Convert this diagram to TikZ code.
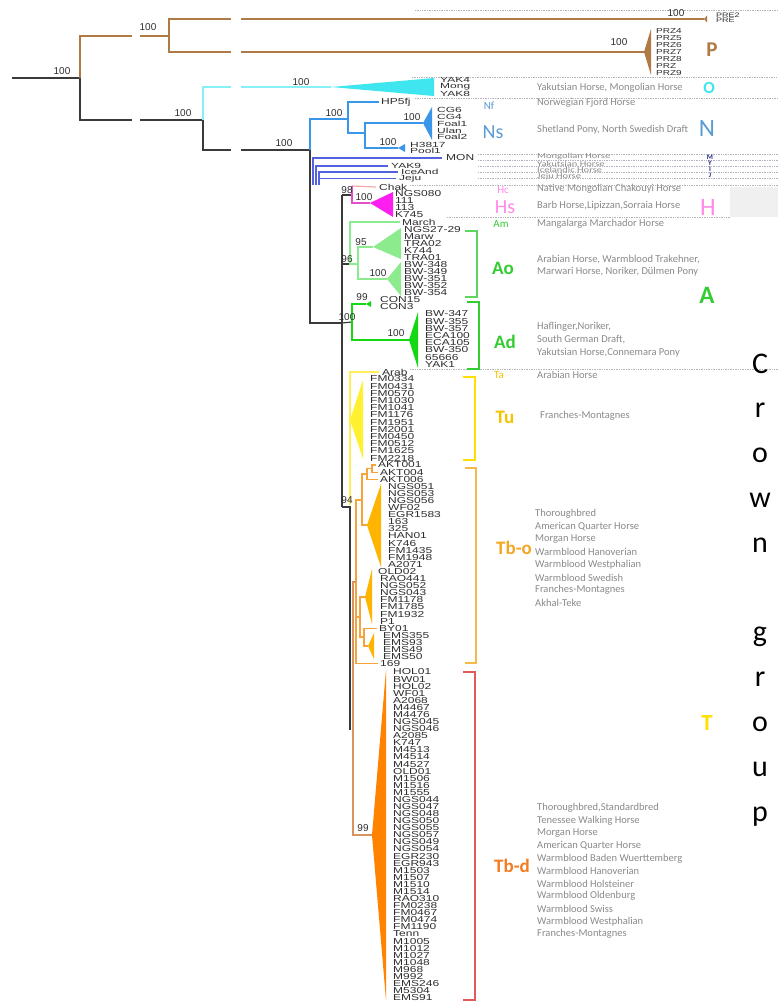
\documentclass[tikz,border=0pt]{standalone}
\usepackage{fontspec}
\setmainfont{Carlito}
\newfontfamily\arialf{Liberation Sans}
\newcommand\sq[1]{\scalebox{1}[0.72]{#1}}
\newcommand\sqq[1]{\scalebox{1}[0.62]{#1}}

\definecolor{blk}{HTML}{3A3A3A}
\definecolor{brn}{HTML}{B07A45}
\definecolor{cyl}{HTML}{86F0F6}
\definecolor{cyt}{HTML}{3FE6F0}
\definecolor{nblu}{HTML}{3A96E8}
\definecolor{nlab}{HTML}{5B9BD5}
\definecolor{mblu}{HTML}{5262E0}
\definecolor{navy}{HTML}{1F2A80}
\definecolor{hpk}{HTML}{FF8AE8}
\definecolor{hmag}{HTML}{FF1EF0}
\definecolor{hlin}{HTML}{E24FC8}
\definecolor{chakc}{HTML}{F4A8A8}
\definecolor{lgrn}{HTML}{8CEB8C}
\definecolor{dgrn}{HTML}{14D814}
\definecolor{glab}{HTML}{33CC33}
\definecolor{ylin}{HTML}{FFEE55}
\definecolor{ytri}{HTML}{FFF030}
\definecolor{ylab}{HTML}{F5C400}
\definecolor{tyel}{HTML}{FFE000}
\definecolor{olin}{HTML}{F5A33A}
\definecolor{otri}{HTML}{FFB400}
\definecolor{olab}{HTML}{F5A623}
\definecolor{obkt}{HTML}{F7B84A}
\definecolor{dtri}{HTML}{FF8200}
\definecolor{dlab}{HTML}{F47B20}
\definecolor{tanl}{HTML}{D8935E}
\definecolor{rbkt}{HTML}{E05A5A}
\definecolor{descc}{HTML}{8A8A8A}
\definecolor{leafc}{HTML}{2E2E2E}
\definecolor{dotc}{HTML}{B4B4C0}
\definecolor{greybox}{HTML}{F0F0F0}

\tikzset{
  br/.style={line width=1.2pt},
  bkt/.style={line width=1.3pt},
  leaf/.style={anchor=west, inner sep=0pt, text=leafc, font=\arialf\fontsize{12}{12}\selectfont},
  pleaf/.style={leaf, font=\arialf\fontsize{10}{10}\selectfont},
  boot/.style={inner sep=0pt, text=leafc, font=\arialf\fontsize{10}{10}\selectfont},
  desc/.style={anchor=west, inner sep=0pt, text=descc, font=\fontsize{10.5}{12}\selectfont},
  abbr/.style={inner sep=0pt, font=\fontsize{11}{11}\selectfont},
  clade/.style={inner sep=0pt, font=\fontsize{19}{19}\selectfont\bfseries},
  biglet/.style={inner sep=0pt, font=\fontsize{23}{23}\selectfont},
  crown/.style={anchor=base, inner sep=0pt, font=\fontsize{30}{30}\selectfont},
  dotsep/.style={draw=dotc, densely dotted, line width=0.7pt},
}

\begin{document}
\begin{tikzpicture}[x=1pt,y=-1pt]
\useasboundingbox (0,0) rectangle (778,1005);
\fill[white] (0,0) rectangle (778,1005);
\fill[greybox] (730,187) rectangle (778,217);
\foreach \y/\a/\b in {10/415/778,77/412/778,98/415/778,154/478/778,160/478/778,166/478/778,172/478/778,178/478/778,185/410/778,217/447/730,369/410/778}
  \draw[dotsep] (\a,\y) -- (\b,\y);

% P
\coordinate (root) at (12,78);
\coordinate (n0) at (80,78);
\coordinate (nP) at (169,36);
\coordinate (nO) at (203,120);
\draw[br,blk] (root) -- (n0) -- (80,120) -- (132,120);
\draw[br,blk] (140,120) -- (nO);
\draw[br,brn] (n0) -- (80,36) -- (132,36);
\draw[br,brn] (140,36) -- (nP);
\draw[br,brn] (231,19) -| (nP) |- (231,52);
\draw[br,brn] (241,19) -- (704,19);
\draw[br,brn] (241,52) -- (644,52);
\fill[brn] (704,19) -- (707,15.5) -- (707,22.5) -- cycle;
\fill[brn] (644,52) -- (651,29) -- (651,75) -- cycle;
\node[pleaf, font=\arialf\fontsize{9}{9}\selectfont] (pre2) at (716,15) {\sq{PRE2}};
\node[pleaf, font=\arialf\fontsize{9}{9}\selectfont] (pre) at (716,20) {\sq{PRE}};
\foreach \t [count=\i from 0] in {PRZ4,PRZ5,PRZ6,PRZ7,PRZ8,PRZ,PRZ9}
  \node[pleaf] (prz\i) at (656,31+\i*7) {\sq{\t}};
\node[boot] (b0) at (62,71) {100};
\node[boot] (b1) at (148,27) {100};
\node[boot] (b2) at (676,13) {100};
\node[boot] (b3) at (619,42) {100};
\node[boot] (b4) at (183,113) {100};

% O
\coordinate (aO) at (331,87);
\coordinate (nC) at (310,150);
\draw[br,cyl] (231,87) -| (nO);
\draw[br,cyl] (241,87) -- (aO);
\fill[cyt] (aO) -- (434,78) -- (434,96) -- cycle;
\foreach \t [count=\i from 0] in {YAK4,Mong,YAK8}
  \node[leaf] (o\i) at (440,80+\i*7) {\sqq{\t}};
\draw[br,blk] (nO) |- (231,150);
\draw[br,blk] (241,150) -- (nC);
\node[boot] (b5) at (301,82) {100};
\node[boot] (b6) at (284,143) {100};

% N
\coordinate (nN) at (348,119);
\coordinate (nNs) at (365,133);
\coordinate (aNs) at (423,123);
\coordinate (aH) at (398,148);
\node[leaf] (hp) at (381,102) {\sq{HP5fj}};
\foreach \t [count=\i from 0] in {CG6,CG4,Foal1,Ulan,Foal2}
  \node[leaf] (ns\i) at (437,110+\i*6.8) {\sqq{\t}};
\foreach \t [count=\i from 0] in {H3817,Pool1}
  \node[leaf] (nh\i) at (410,144.5+\i*6.8) {\sqq{\t}};
\draw[br,nblu] (nC) -- (310,119) -- (nN);
\draw[br,nblu] ([xshift=-2pt]hp.west) -| (nN) |- (nNs);
\draw[br,nblu] (aNs) -| (nNs) |- (aH);
\fill[nblu] (aNs) -- (432,107) -- (432,140) -- cycle;
\fill[nblu] (aH) -- (405,144) -- (405,152) -- cycle;
\node[boot] (b7) at (334,113) {100};
\node[boot] (b8) at (412,117) {100};
\node[boot] (b9) at (388,142) {100};

% M, Y, I, J
\node[leaf] (mon) at (446,158) {\sq{MON}};
\node[leaf] (yak9) at (391,166) {\sqq{YAK9}};
\node[leaf] (ice) at (401,172) {\sqq{IceAnd}};
\node[leaf] (jeju) at (399,178.5) {\sqq{Jeju}};
\draw[br,mblu] (313,185) |- ([xshift=-4pt]mon.west);
\draw[br,mblu] (316,185) |- ([xshift=-3pt]yak9.west);
\draw[br,mblu] (319,185) |- ([xshift=-3pt]ice.west);
\draw[br,mblu] (319,178.5) -- ([xshift=-3pt]jeju.west);

% crown spine
\coordinate (nHA) at (342,323);
\coordinate (hTop) at (342,195);
\coordinate (nT) at (342,507);
\draw[br,blk] (nC) |- (nHA);
\draw[br,blk] (hTop) -- (nT);

% H
\coordinate (nH) at (352,195);
\coordinate (aHs) at (370,203);
\node[leaf] (chak) at (379,187) {\sq{Chak}};
\foreach \t [count=\i from 0] in {NGS080,111,113,K745}
  \node[leaf] (hs\i) at (395,194+\i*7) {\sq{\t}};
\draw[br,blk] (hTop) -- (nH);
\draw[br,chakc] ([xshift=-3pt]chak.west) -- (352,186);
\draw[br,hlin] (352,186) -- (nH) |- (aHs);
\fill[hmag] (aHs) -- (393,192) -- (393,217) -- cycle;
\node[boot] (b10) at (347,190) {98};
\node[boot] (b11) at (364,197) {100};

% Ao
\coordinate (nAo) at (350,264);
\coordinate (n95) at (358,264);
\coordinate (aAo1) at (373,247);
\coordinate (aAo2) at (387,279);
\node[leaf] (march) at (402,222) {\sq{March}};
\foreach \t [count=\i from 0] in {NGS27-29,Marw,TRA02,K744,TRA01,BW-348,BW-349,BW-351,BW-352,BW-354}
  \node[leaf] (ao\i) at (404,230+\i*7) {\sq{\t}};
\draw[br,blk] (342,264) -- (nAo);
\draw[br,lgrn] ([xshift=-2pt]march.west) -| (nAo) -- (n95);
\draw[br,lgrn] (aAo1) -| (n95) |- (aAo2);
\fill[lgrn] (aAo1) -- (401,228) -- (401,259) -- cycle;
\fill[lgrn] (aAo2) -- (401,262) -- (401,296) -- cycle;
\node[boot] (b12) at (347,259) {96};
\node[boot] (b13) at (361,242) {95};
\node[boot] (b14) at (378,273) {100};

% Ad
\coordinate (nAd) at (352,322);
\coordinate (aCon) at (366,304);
\coordinate (aAd) at (409,340);
\node[leaf] (con15) at (380,300) {\sq{CON15}};
\node[leaf] (con3) at (380,307) {\sq{CON3}};
\foreach \t [count=\i from 0] in {BW-347,BW-355,BW-357,ECA100,ECA105,BW-350,65666,YAK1}
  \node[leaf] (ad\i) at (425,314+\i*7.2) {\sq{\t}};
\draw[br,blk] (nHA) -- (nAd);
\draw[br,dgrn] (aCon) -| (nAd) |- (aAd);
\fill[dgrn] (aCon) -- (371,301) -- (371,307) -- cycle;
\fill[dgrn] (aAd) -- (418,312) -- (418,368) -- cycle;
\node[boot] (b15) at (362,297) {99};
\node[boot] (b16) at (347,317) {100};
\node[boot] (b17) at (396,333) {100};

% Ta, Tu
\coordinate (nTu) at (350,420);
\node[leaf] (arab) at (382,372) {\sq{Arab}};
\foreach \t [count=\i from 0] in {FM0334,FM0431,FM0570,FM1030,FM1041,FM1176,FM1951,FM2001,FM0450,FM0512,FM1625,FM2218}
  \node[leaf] (tu\i) at (370,379+\i*7.2) {\sq{\t}};
\draw[br,ylin] ([xshift=-3pt]arab.west) -| (nTu) -- (350,505);
\fill[ytri] (nTu) -- (363,380) -- (363,459) -- cycle;
\draw[br,blk] (nT) -- (350,507) -- (350,730);
\node[boot] (b18) at (347,500) {94};

% Tb-o
\foreach \t/\x [count=\i from 0] in {AKT001/378,AKT004/380,AKT006/380,NGS051/388,NGS053/388,NGS056/388,WF02/388,EGR1583/388,163/388,325/388,HAN01/388,K746/388,FM1435/388,FM1948/388,A2071/388,OLD02/378,RAO441/380,NGS052/380,NGS043/380,FM1178/380,FM1785/380,FM1932/380,P1/380,BY01/379,EMS355/383,EMS93/383,EMS49/383,EMS50/383,169/380}
  \node[leaf] (tbo\i) at (\x,465+\i*7.1) {\sq{\t}};
\coordinate (n1) at (372,468.5);
\coordinate (n2) at (367,474);
\coordinate (n3) at (362,500);
\coordinate (a1) at (367,525);
\coordinate (a2) at (365,597);
\coordinate (a3) at (368,646);
\coordinate (n7) at (364,637);
\coordinate (n8) at (360,617);
\coordinate (n9) at (356,582);
\draw[br,olin] ([xshift=-2pt]tbo0.west) -| (n1) |- ([xshift=-2pt]tbo1.west);
\draw[br,olin] (n1) -| (n2) |- ([xshift=-2pt]tbo2.west);
\draw[br,olin] (n2) -| (n3) |- (a1);
\draw[br,olin] (n3) -| (n9) |- (n8);
\draw[br,olin] (n9) |- ([xshift=-2pt]tbo28.west);
\draw[br,olin] (a2) -| (n8) |- (n7);
\draw[br,olin] ([xshift=-2pt]tbo23.west) -| (n7) |- (a3);
\fill[otri] (a1) -- (381,484) -- (381,567) -- cycle;
\fill[otri] (a2) -- (372,569) -- (372,624) -- cycle;
\fill[otri] (a3) -- (374,633) -- (374,659) -- cycle;

% Tb-d
\coordinate (nTb) at (353,708);
\coordinate (aTbd) at (372,835);
\foreach \t [count=\i from 0] in {HOL01,BW01,HOL02,WF01,A2068,M4467,M4476,NGS045,NGS046,A2085,K747,M4513,M4514,M4527,OLD01,M1506,M1516,M1555,NGS044,NGS047,NGS048,NGS050,NGS055,NGS057,NGS049,NGS054,EGR230,EGR943,M1503,M1507,M1510,M1514,RAO310,FM0238,FM0467,FM0474,FM1190,Tenn,M1005,M1012,M1027,M1048,M968,M992,EMS246,M5304,EMS91}
  \node[leaf] (tbd\i) at (393,672+\i*7.08) {\sq{\t}};
\draw[br,tanl] (n9) -| (nTb) |- (aTbd);
\fill[dtri] (aTbd) -- (386,670) -- (386,1000) -- cycle;
\node[boot] (b19) at (363,828) {99};

% brackets
\draw[bkt,glab!80] (465,231) -- (477,231) -- (477,297) -- (465,297);
\draw[bkt,glab] (467,302) -- (479,302) -- (479,369) -- (467,369);
\draw[bkt,tyel] (463,377) -- (475,377) -- (475,460) -- (463,460);
\draw[bkt,obkt] (465,468) -- (476,468) -- (476,663) -- (465,663);
\draw[bkt,rbkt] (463,672) -- (475,672) -- (475,1000) -- (463,1000);

% descriptions
\node[desc] (dO) at (537,88) {Yakutsian Horse, Mongolian Horse};
\node[desc] (dNf) at (537,103) {Norwegian Fjord Horse};
\node[desc] (dNs) at (537,130) {Shetland Pony, North Swedish Draft};
\node[desc] (dM) at (537,157) {\sq{Mongolian Horse}};
\node[desc] (dY) at (537,163.5) {\sq{Yakutsian Horse}};
\node[desc] (dI) at (537,170) {\sq{Icelandic Horse}};
\node[desc] (dJ) at (537,176.5) {\sq{Jeju Horse}};
\node[desc] (dHc) at (537,189) {Native Mongolian Chakouyi Horse};
\node[desc] (dHs) at (537,206) {Barb Horse,Lipizzan,Sorraia Horse};
\node[desc] (dAm) at (537,224) {Mangalarga Marchador Horse};
\node[desc] (dAo1) at (537,260) {Arabian Horse, Warmblood Trakehner,};
\node[desc] (dAo2) at (537,272) {Marwari Horse, Noriker, Dülmen Pony};
\node[desc] (dAd1) at (537,327) {Haflinger,Noriker,};
\node[desc] (dAd2) at (537,340) {South German Draft,};
\node[desc] (dAd3) at (537,353) {Yakutsian Horse,Connemara Pony};
\node[desc] (dTa) at (537,375) {Arabian Horse};
\node[desc] (dTu) at (540,416) {Franches-Montagnes};
\foreach \t [count=\i from 0] in {Thoroughbred,American Quarter Horse,Morgan Horse,Warmblood Hanoverian,Warmblood Westphalian,Warmblood Swedish,Franches-Montagnes,Akhal-Teke}
  \node[desc] (dto\i) at (535,514+\i*12.7) {\t};
\foreach \t [count=\i from 0] in {{Thoroughbred,Standardbred},Tenessee Walking Horse,Morgan Horse,American Quarter Horse,Warmblood Baden Wuerttemberg,Warmblood Hanoverian,Warmblood Holsteiner,Warmblood Oldenburg,Warmblood Swiss,Warmblood Westphalian,Franches-Montagnes}
  \node[desc] (dtd\i) at (537,808+\i*12.6) {\t};

% clade abbreviations
\node[abbr, text=nlab] (lNf) at (489,106) {Nf};
\node[inner sep=0pt, font=\fontsize{20}{20}\selectfont, text=nlab] (lNs) at (493,132) {Ns};
\node[abbr, text=hpk] (lHc) at (503,190) {Hc};
\node[inner sep=0pt, font=\fontsize{20}{20}\selectfont, text=hpk] (lHs) at (505,207) {Hs};
\node[abbr, text=glab] (lAm) at (501,224) {Am};
\node[clade, text=glab] (lAo) at (503,268) {Ao};
\node[clade, text=glab] (lAd) at (505,342) {Ad};
\node[abbr, text=ylab] (lTa) at (499,375) {Ta};
\node[clade, text=ylab] (lTu) at (505,417) {Tu};
\node[clade, text=olab] (lTbo) at (514,548) {Tb-o};
\node[clade, text=dlab] (lTbd) at (512,866) {Tb-d};

% group letters
\node[biglet, text=brn, font=\fontsize{21}{21}\selectfont\bfseries] (gP) at (712,50) {P};
\node[biglet, text=cyt, font=\fontsize{17}{17}\selectfont\bfseries] (gO) at (709,88) {O};
\node[biglet, text=nlab, font=\fontsize{25}{25}\selectfont] (gN) at (707,128) {N};
\foreach \c/\y in {M/157,Y/163,I/169,J/175.5}
  \node[inner sep=0pt, text=navy, font=\fontsize{7}{7}\selectfont\bfseries] (g\c) at (710,\y) {\c};
\node[biglet, text=hpk, font=\fontsize{25}{25}\selectfont] (gH) at (708,207) {H};
\node[biglet, text=glab, font=\fontsize{25}{25}\selectfont\bfseries] (gA) at (707,295) {A};
\node[biglet, text=tyel, font=\fontsize{23}{23}\selectfont\bfseries] (gT) at (707,723) {T};

% Crown group
\foreach \c/\k in {C/0,r/1,o/2,w/3,n/4,g/6,r/7,o/8,u/9,p/10}
  \node[crown] (cg\k) at (760,373+\k*44.8) {\c};
\end{tikzpicture}
\end{document}
